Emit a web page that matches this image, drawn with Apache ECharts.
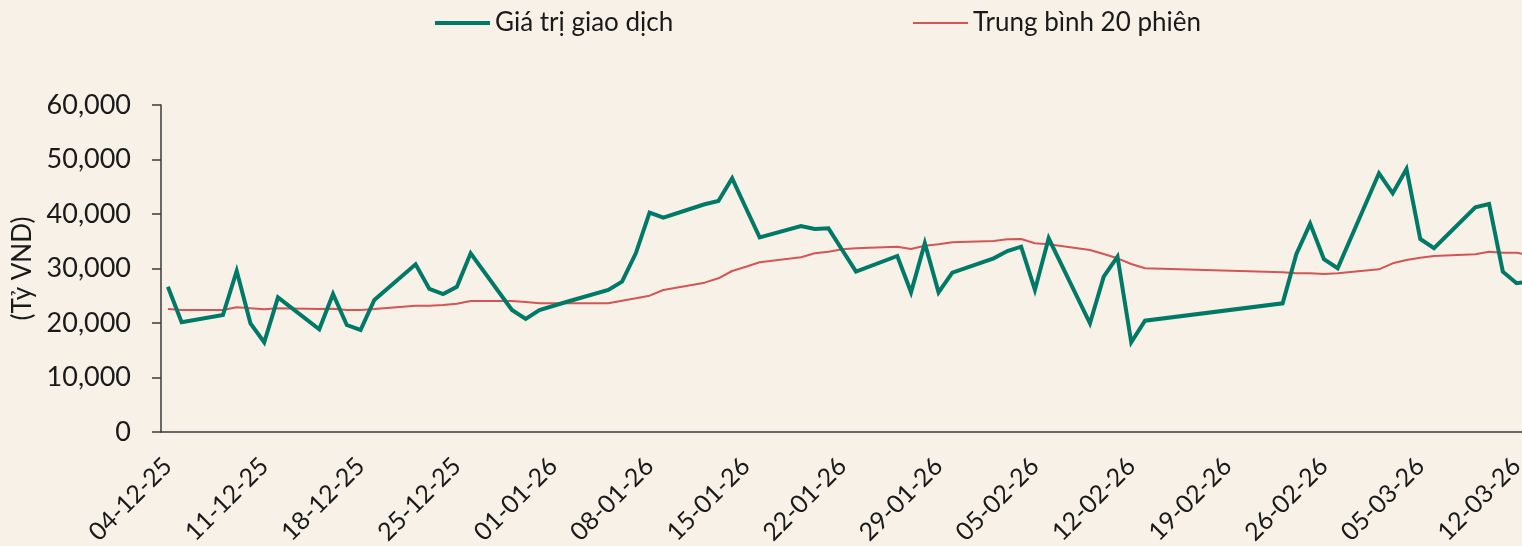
<!DOCTYPE html>
<html>
<head>
<meta charset="utf-8">
<script src="https://cdn.jsdelivr.net/npm/echarts@6/dist/echarts.min.js"></script>
<style>
html,body{margin:0;padding:0;background:#F7F1E8;}
#chart{width:1522px;height:546px;}
</style>
</head>
<body>
<div id="chart"></div>
<script>
// Trading dates (dd-mm-yy)
var dates = ['04-12-25','05-12-25','08-12-25','09-12-25','10-12-25','11-12-25','12-12-25',
  '15-12-25','16-12-25','17-12-25','18-12-25','19-12-25',
  '22-12-25','23-12-25','24-12-25','25-12-25','26-12-25',
  '29-12-25','30-12-25','31-12-25','02-01-26',
  '05-01-26','06-01-26','07-01-26','08-01-26','09-01-26',
  '12-01-26','13-01-26','14-01-26','15-01-26','16-01-26',
  '19-01-26','20-01-26','21-01-26','22-01-26','23-01-26',
  '26-01-26','27-01-26','28-01-26','29-01-26','30-01-26',
  '02-02-26','03-02-26','04-02-26','05-02-26','06-02-26',
  '09-02-26','10-02-26','11-02-26','12-02-26','13-02-26',
  '23-02-26','24-02-26','25-02-26','26-02-26','27-02-26',
  '02-03-26','03-03-26','04-03-26','05-03-26','06-03-26',
  '09-03-26','10-03-26','11-03-26','12-03-26','13-03-26'];
// Giá trị giao dịch (Tỷ VND)
var tradeValue = [26660,20130,21470,29540,19940,16460,24710,
  18840,25320,19630,18720,24220,
  30770,26240,25320,26660,32790,
  22390,20740,22390,23900,
  26060,27580,32790,40240,39330,
  41780,42390,46550,41100,35720,
  37800,37250,37370,33400,29420,
  32300,25630,34630,25630,29230,
  31870,33210,34010,26060,35540,
  19940,28500,32170,16460,20430,
  23610,32660,38230,31720,30040,
  47470,43800,48260,35420,33710,
  41230,41840,29420,27290,27600];
// Trung bình 20 phiên
var ma20 = [22570,22390,22390,22880,22700,22510,22700,
  22570,22630,22390,22390,22570,
  23180,23180,23300,23550,24040,
  24040,23860,23610,23610,
  23610,24100,24530,25010,26060,
  27400,28200,29540,30330,31140,
  32060,32790,33090,33520,33710,
  34010,33580,34190,34470,34810,
  35050,35360,35420,34630,34440,
  33400,32660,31870,30830,30040,
  29300,29120,29120,28990,29120,
  29850,30950,31560,31990,32300,
  32600,33090,32900,32900,32400];
// X-axis tick labels (weekly)
var tickLabels = ['04-12-25','11-12-25','18-12-25','25-12-25','01-01-26','08-01-26','15-01-26',
  '22-01-26','29-01-26','05-02-26','12-02-26','19-02-26','26-02-26','05-03-26','12-03-26'];
var seriesNames = ['Giá trị giao dịch','Trung bình 20 phiên'];

function dayIndex(s){
  var p = s.split('-');
  var t = Date.UTC(2000 + (+p[2]), (+p[1]) - 1, +p[0]);
  var t0 = Date.UTC(2025, 11, 4);
  return Math.round((t - t0) / 86400000);
}
var labelByIdx = {};
var tickIdx = tickLabels.map(function(l){ var i = dayIndex(l); labelByIdx[i] = l; return i; });
var xs = dates.map(dayIndex);
var s1 = xs.map(function(x,i){ return [x, tradeValue[i]]; });
var s2 = xs.map(function(x,i){ return [x, ma20[i]]; });

var FONT = 'Lato';
var chart = echarts.init(document.getElementById('chart'), null, {renderer:'canvas'});
chart.setOption({
  backgroundColor: '#F7F1E8',
  animation: false,
  textStyle: {fontFamily: FONT},
  legend: [
    {data:[seriesNames[0]], left: 435, top: 10, padding: 0, icon:'rect', itemWidth: 55, itemHeight: 4, itemGap: 0,
     textStyle:{fontFamily:FONT, fontSize:26, color:'#1a1a1a'}},
    {data:[seriesNames[1]], left: 913, top: 10, padding: 0, icon:'rect', itemWidth: 55, itemHeight: 2, itemGap: 0,
     textStyle:{fontFamily:FONT, fontSize:26, color:'#1a1a1a'}}
  ],
  grid: {left: 161, top: 105, bottom: 114, width: 1390, containLabel: false, outerBoundsMode: 'none'},
  xAxis: {
    type: 'value', min: -0.5, max: 100.5,
    splitLine: {show:false},
    axisLine: {show:true, onZero:false, lineStyle:{color:'#3a3a3a', width:1.5}},
    axisTick: {show:false},
    axisLabel: {
      customValues: tickIdx,
      rotate: 45, margin: 30,
      fontFamily: FONT, fontSize: 25, color:'#1a1a1a',
      formatter: function(v){ return labelByIdx[v] || ''; }
    }
  },
  yAxis: {
    type: 'value', min: 0, max: 60000, interval: 10000,
    name: '(Tỷ VND)', nameLocation: 'middle', nameRotate: 90, nameGap: 125,
    nameTextStyle: {fontFamily: FONT, fontSize: 26, color:'#1a1a1a'},
    splitLine: {show:false},
    axisLine: {show:true, onZero:false, lineStyle:{color:'#3a3a3a', width:1.5}},
    axisTick: {show:true, inside:false, length: 9, lineStyle:{color:'#3a3a3a', width:1.5}},
    axisLabel: {fontFamily: FONT, fontSize: 27, color:'#1a1a1a', margin: 30,
      formatter: function(v){ return v.toLocaleString('en-US'); }}
  },
  series: [
    {name: seriesNames[0], type:'line', data: s1, showSymbol:false, symbol:'none',
     lineStyle:{color:'#007A66', width:4, join:'miter'}, itemStyle:{color:'#007A66'}, z:3},
    {name: seriesNames[1], type:'line', data: s2, showSymbol:false, symbol:'none',
     lineStyle:{color:'#D45555', width:2}, itemStyle:{color:'#D45555'}, z:2}
  ]
});
</script>
</body>
</html>
